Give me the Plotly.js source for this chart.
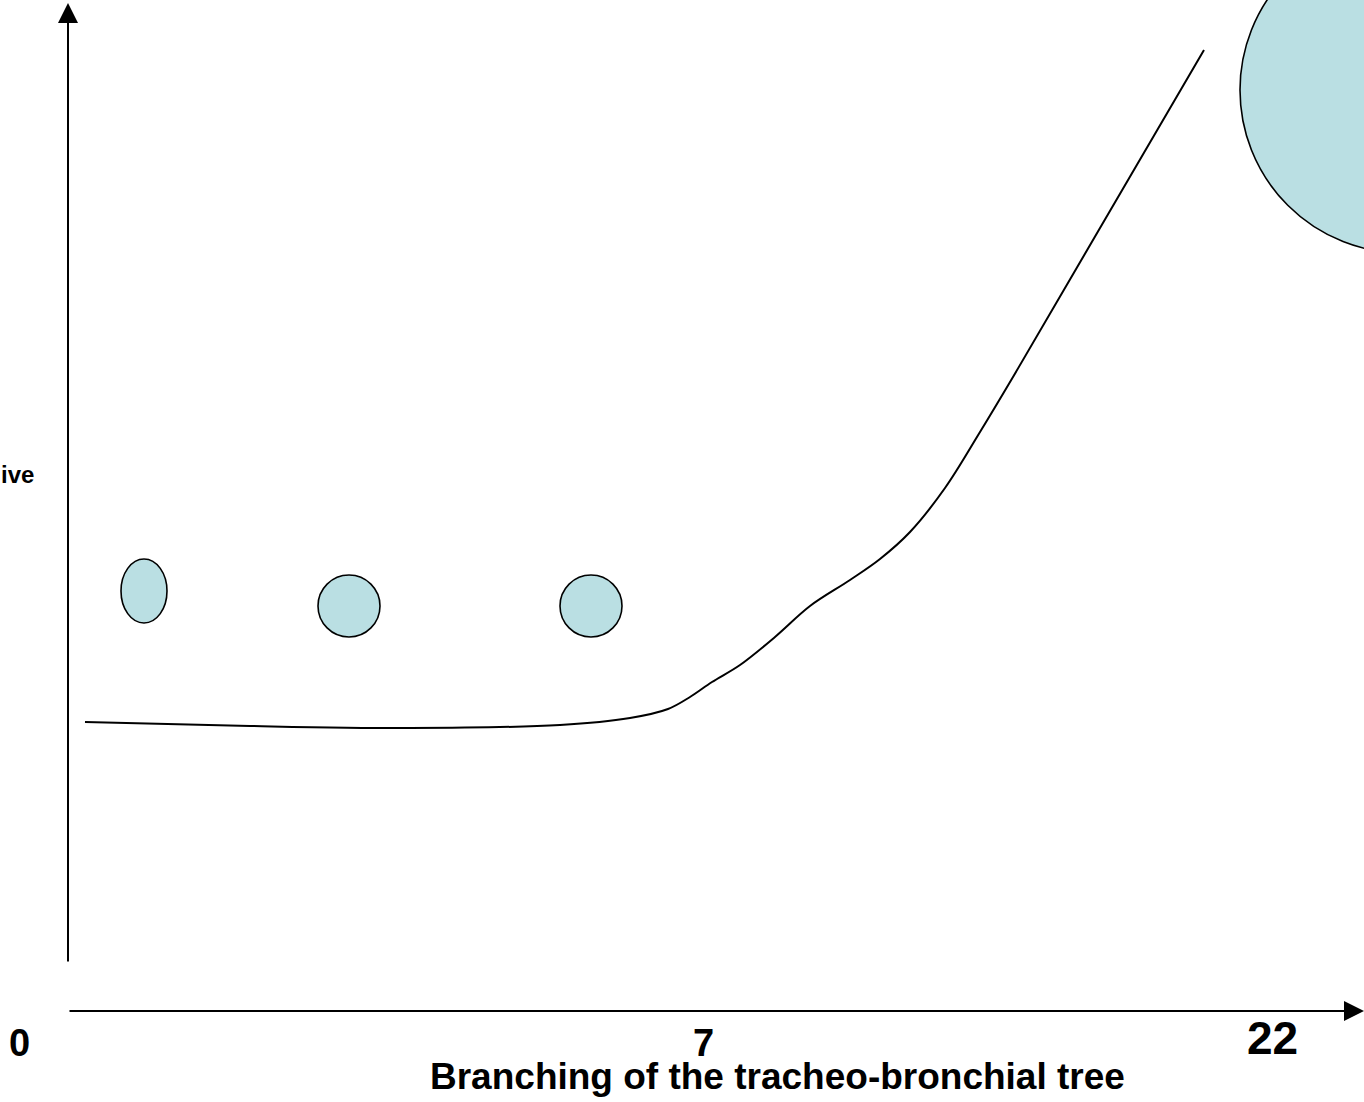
<!DOCTYPE html>
<html>
<head>
<meta charset="utf-8">
<script src="https://cdn.plot.ly/plotly-3.0.1.min.js"></script>
<style>html,body{margin:0;padding:0;background:#fff;}#chart{width:1364px;height:1102px;}</style>
</head>
<body>
<div id="chart"></div>
<script>
// Schematic coordinates (diagram units, y grows downward)
const curveX = [85, 250, 410, 560, 630, 668, 690, 712, 740, 775, 810, 850, 880, 910, 945, 980, 1013, 1100, 1204];
const curveY = [722, 726, 728, 725, 718, 709, 697, 682, 665, 637, 606, 580, 559, 532, 488, 432, 377, 228, 50];

const bubbleX  = [144, 349, 591, 1403];
const bubbleY  = [591, 606, 606, 90];
const bubbleRX = [23, 31, 31, 163];
const bubbleRY = [32, 31, 31, 163];

const tickVals   = [19, 703, 1272];
const tickLabels = ['0', '7', '22'];
const tickSizes  = [38, 38, 46];
const tickY      = [1043, 1043, 1038];

const xTitle = 'Branching of the tracheo-bronchial tree';
const yTitleFragment = 'ive';

const shapes = bubbleX.map((cx, i) => ({
  type: 'circle', xref: 'x', yref: 'y',
  x0: cx - bubbleRX[i], x1: cx + bubbleRX[i],
  y0: bubbleY[i] - bubbleRY[i], y1: bubbleY[i] + bubbleRY[i],
  fillcolor: '#BADFE3', line: {color: '#000', width: 1.6}, layer: 'above'
}));

const boldFont = (s) => ({family: '"Liberation Sans", Arial, sans-serif', size: s, color: '#000', weight: 'bold'});

const annotations = [
  // y axis arrow
  {x: 68, y: 3, ax: 68, ay: 963, xref: 'x', yref: 'y', axref: 'x', ayref: 'y',
   text: '', showarrow: true, arrowhead: 2, arrowsize: 2, arrowwidth: 2, arrowcolor: '#000', standoff: 0},
  // x axis arrow
  {x: 1364, y: 1011, ax: 68, ay: 1011, xref: 'x', yref: 'y', axref: 'x', ayref: 'y',
   text: '', showarrow: true, arrowhead: 2, arrowsize: 2, arrowwidth: 2, arrowcolor: '#000', standoff: 0},
  {x: 777, y: 1076, xref: 'x', yref: 'y', text: '<b>' + xTitle + '</b>', showarrow: false,
   font: boldFont(37), xanchor: 'center', yanchor: 'middle'},
  {x: 35, y: 474, xref: 'x', yref: 'y', text: '<b>' + yTitleFragment + '</b>', showarrow: false,
   font: boldFont(24), xanchor: 'right', yanchor: 'middle', borderpad: 0}
];
tickVals.forEach((v, i) => {
  annotations.push({x: v, y: tickY[i], xref: 'x', yref: 'y', text: '<b>' + tickLabels[i] + '</b>',
    showarrow: false, font: boldFont(tickSizes[i]), xanchor: 'center', yanchor: 'middle'});
});

const trace = {
  x: curveX, y: curveY, type: 'scatter', mode: 'lines',
  line: {color: '#000', width: 2, shape: 'spline', smoothing: 1},
  hoverinfo: 'skip', showlegend: false
};

const layout = {
  width: 1364, height: 1102,
  margin: {l: 0, r: 0, t: 0, b: 0, pad: 0},
  paper_bgcolor: '#fff', plot_bgcolor: '#fff',
  xaxis: {range: [0, 1364], visible: false, fixedrange: true},
  yaxis: {range: [1102, 0], visible: false, fixedrange: true},
  shapes: shapes, annotations: annotations, showlegend: false
};

Plotly.newPlot('chart', [trace], layout, {staticPlot: true, displayModeBar: false});
</script>
</body>
</html>
